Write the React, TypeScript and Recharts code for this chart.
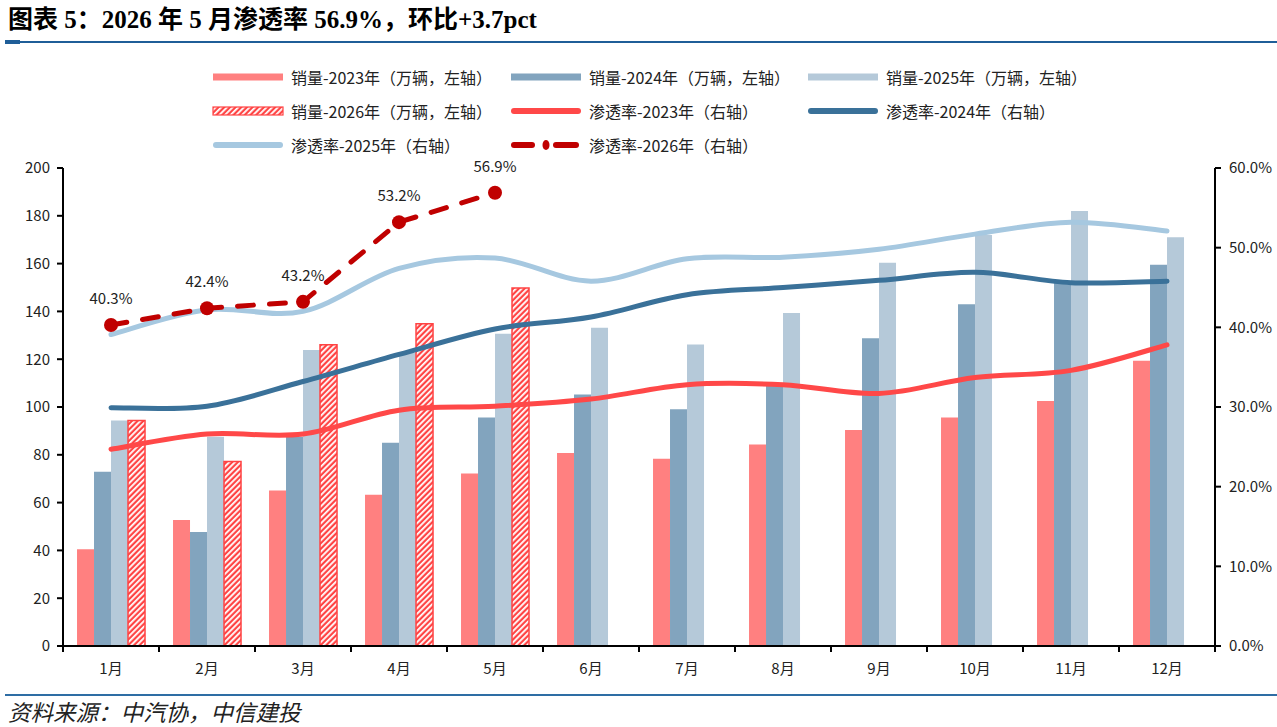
import React from 'react';
import { Bar, ComposedChart, LabelList, Line, XAxis, YAxis } from 'recharts';

const months = ['1月', '2月', '3月', '4月', '5月', '6月', '7月', '8月', '9月', '10月', '11月', '12月'];

// 销量（万辆）
const sales2023 = [40.5, 52.7, 65.1, 63.3, 72.2, 80.8, 78.3, 84.3, 90.4, 95.6, 102.5, 119.3];
const sales2024 = [72.9, 47.7, 87.6, 85.0, 95.6, 105.2, 99.1, 110.0, 128.8, 143.0, 152.0, 159.5];
const sales2025 = [94.4, 87.6, 123.8, 122.6, 130.7, 133.2, 126.2, 139.3, 160.4, 172.0, 182.0, 171.0];
const sales2026 = [94.4, 77.2, 126.0, 134.8, 149.8];

// 渗透率（%）
const rate2023 = [24.7, 26.6, 26.6, 29.6, 30.1, 31.0, 32.8, 32.8, 31.7, 33.7, 34.6, 37.8];
const rate2024 = [29.9, 30.1, 33.2, 36.6, 39.8, 41.3, 44.1, 45.0, 45.9, 46.9, 45.6, 45.8];
const rate2025 = [39.1, 42.2, 42.0, 47.4, 48.7, 45.8, 48.6, 48.8, 49.8, 51.7, 53.2, 52.1];
const rate2026 = [40.3, 42.4, 43.2, 53.2, 56.9];

const leftTicks = [0, 20, 40, 60, 80, 100, 120, 140, 160, 180, 200];
const rightTicks = [0, 10, 20, 30, 40, 50, 60];

const C = {
  bar23: '#FF8080',
  bar24: '#82A4BE',
  bar25: '#B5C9D9',
  hatch: '#FF4343',
  line23: '#FF4848',
  line24: '#3A7199',
  line25: '#A6C8E0',
  line26: '#C00000',
};

const FONT = '"Noto Sans CJK SC", "Noto Sans", sans-serif';

const data = months.map((m, i) => ({
  month: m,
  s23: sales2023[i],
  s24: sales2024[i],
  s25: sales2025[i],
  s26: sales2026[i] ?? null,
  r23: rate2023[i],
  r24: rate2024[i],
  r25: rate2025[i],
  r26: rate2026[i] ?? null,
}));

// Excel-like smoothed line (Catmull-Rom through the points)
const smooth = (ctx: any) => {
  let pts: number[][] = [];
  return {
    areaStart() {},
    areaEnd() {},
    lineStart() {
      pts = [];
    },
    point(x: number, y: number) {
      pts.push([+x, +y]);
    },
    lineEnd() {
      const n = pts.length;
      if (!n) return;
      ctx.moveTo(pts[0][0], pts[0][1]);
      for (let i = 0; i < n - 1; i++) {
        const p0 = pts[Math.max(i - 1, 0)];
        const p1 = pts[i];
        const p2 = pts[i + 1];
        const p3 = pts[Math.min(i + 2, n - 1)];
        ctx.bezierCurveTo(
          p1[0] + (p2[0] - p0[0]) / 6,
          p1[1] + (p2[1] - p0[1]) / 6,
          p2[0] - (p3[0] - p1[0]) / 6,
          p2[1] - (p3[1] - p1[1]) / 6,
          p2[0],
          p2[1],
        );
      }
    },
  };
};

const HALF_BAND = 48;

const MonthTick = (props: any) => {
  const { x, y, payload, index } = props;
  return (
    <g>
      <line x1={x - HALF_BAND} y1={y} x2={x - HALF_BAND} y2={y + 6} stroke="#000" strokeWidth={2} />
      {index === months.length - 1 && (
        <line x1={x + HALF_BAND} y1={y} x2={x + HALF_BAND} y2={y + 6} stroke="#000" strokeWidth={2} />
      )}
      <text x={x} y={y + 28} textAnchor="middle" fontSize={15} fill="#222" fontFamily={FONT}>
        {payload.value}
      </text>
    </g>
  );
};

const legendItems = [
  { label: '销量-2023年（万辆，左轴）', kind: 'bar', color: C.bar23 },
  { label: '销量-2024年（万辆，左轴）', kind: 'bar', color: C.bar24 },
  { label: '销量-2025年（万辆，左轴）', kind: 'bar', color: C.bar25 },
  { label: '销量-2026年（万辆，左轴）', kind: 'hatch', color: C.hatch },
  { label: '渗透率-2023年（右轴）', kind: 'line', color: C.line23 },
  { label: '渗透率-2024年（右轴）', kind: 'line', color: C.line24 },
  { label: '渗透率-2025年（右轴）', kind: 'line', color: C.line25 },
  { label: '渗透率-2026年（右轴）', kind: 'dash', color: C.line26 },
];

const colX = [212, 510, 807];
const rowY = [77, 111, 145];

function LegendIcon({ kind, color }: { kind: string; color: string }) {
  return (
    <svg width={72} height={14} style={{ display: 'block' }}>
      {kind === 'bar' && <rect x={1} y={3.5} width={70} height={7} fill={color} />}
      {kind === 'hatch' && (
        <rect x={1} y={3} width={70} height={8} fill="url(#hatch26)" stroke={color} strokeWidth={1.2} />
      )}
      {kind === 'line' && <line x1={4} y1={7} x2={68} y2={7} stroke={color} strokeWidth={6} strokeLinecap="round" />}
      {kind === 'dash' && (
        <g>
          <line x1={4} y1={7} x2={22} y2={7} stroke={color} strokeWidth={6} strokeLinecap="round" />
          <ellipse cx={36} cy={7} rx={3.5} ry={5} fill={color} />
          <line x1={46} y1={7} x2={66} y2={7} stroke={color} strokeWidth={6} strokeLinecap="round" />
        </g>
      )}
    </svg>
  );
}

export default function App() {
  return (
    <div style={{ position: 'relative', width: 1277, height: 727, background: '#fff', overflow: 'hidden' }}>
      <style>{'body{margin:0;}'}</style>
      <svg width={0} height={0} style={{ position: 'absolute' }}>
        <defs>
          <pattern id="hatch26" patternUnits="userSpaceOnUse" width={4} height={4} patternTransform="rotate(45)">
            <rect width={4} height={4} fill={C.hatch} />
            <rect width={1.8} height={4} fill="#fff" />
          </pattern>
        </defs>
      </svg>

      {/* Title */}
      <div
        style={{
          position: 'absolute',
          left: 8,
          top: 4,
          fontFamily: '"Liberation Serif", "Noto Sans CJK SC", serif',
          fontWeight: 700,
          fontSize: 25,
          color: '#000',
          whiteSpace: 'nowrap',
          lineHeight: '32px',
        }}
      >
        图表 5：2026 年 5 月渗透率 56.9%，环比+3.7pct
      </div>
      <div style={{ position: 'absolute', left: 5, top: 41, width: 1272, height: 2, background: '#1F5E98' }} />
      <div style={{ position: 'absolute', left: 5, top: 40, width: 15, height: 4, background: '#1F5E98' }} />

      {/* Legend */}
      {legendItems.map((it, i) => (
        <div
          key={it.label}
          style={{
            position: 'absolute',
            left: colX[i % 3],
            top: rowY[Math.floor(i / 3)] - 11,
            height: 22,
            display: 'flex',
            alignItems: 'center',
            gap: 7,
            whiteSpace: 'nowrap',
            fontFamily: FONT,
            fontSize: 16,
            color: '#222',
          }}
        >
          <LegendIcon kind={it.kind} color={it.color} />
          <span>{it.label}</span>
        </div>
      ))}

      <div style={{ position: 'absolute', left: 0, top: 0 }}>
        <ComposedChart
          width={1277}
          height={727}
          data={data}
          margin={{ top: 168, right: 0, bottom: 41, left: 8 }}
          barCategoryGap="14.6%"
          barGap={0}
        >
          <XAxis
            dataKey="month"
            xAxisId="x"
            height={40}
            axisLine={{ stroke: '#000', strokeWidth: 2 }}
            tickLine={false}
            tickSize={0}
            tickMargin={0}
            interval={0}
            tick={<MonthTick />}
          />
          <YAxis
            yAxisId="left"
            orientation="left"
            width={55}
            domain={[0, 200]}
            ticks={leftTicks}
            interval={0}
            axisLine={{ stroke: '#000', strokeWidth: 2 }}
            tickLine={{ stroke: '#000', strokeWidth: 2 }}
            tickSize={6}
            tickMargin={7}
            tick={{ fontSize: 15, fill: '#222', fontFamily: FONT }}
          />
          <YAxis
            yAxisId="right"
            orientation="right"
            width={62}
            domain={[0, 60]}
            ticks={rightTicks}
            interval={0}
            axisLine={{ stroke: '#000', strokeWidth: 2 }}
            tickLine={{ stroke: '#000', strokeWidth: 2 }}
            tickSize={6}
            tickMargin={8}
            tickFormatter={(v: number) => `${v.toFixed(1)}%`}
            tick={{ fontSize: 15, fill: '#222', fontFamily: FONT }}
          />

          <Bar dataKey="s23" xAxisId="x" yAxisId="left" fill={C.bar23} isAnimationActive={false} />
          <Bar dataKey="s24" xAxisId="x" yAxisId="left" fill={C.bar24} isAnimationActive={false} />
          <Bar dataKey="s25" xAxisId="x" yAxisId="left" fill={C.bar25} isAnimationActive={false} />
          <Bar
            dataKey="s26"
            xAxisId="x"
            yAxisId="left"
            fill="url(#hatch26)"
            stroke={C.hatch}
            strokeWidth={1.5}
            isAnimationActive={false}
          />

          <Line
            dataKey="r23"
            xAxisId="x"
            yAxisId="right"
            type={smooth as any}
            stroke={C.line23}
            strokeWidth={5}
            strokeLinecap="round"
            dot={false}
            activeDot={false}
            isAnimationActive={false}
          />
          <Line
            dataKey="r24"
            xAxisId="x"
            yAxisId="right"
            type={smooth as any}
            stroke={C.line24}
            strokeWidth={5}
            strokeLinecap="round"
            dot={false}
            activeDot={false}
            isAnimationActive={false}
          />
          <Line
            dataKey="r25"
            xAxisId="x"
            yAxisId="right"
            type={smooth as any}
            stroke={C.line25}
            strokeWidth={5}
            strokeLinecap="round"
            dot={false}
            activeDot={false}
            isAnimationActive={false}
          />
          <Line
            dataKey="r26"
            xAxisId="x"
            yAxisId="right"
            type="linear"
            stroke={C.line26}
            strokeWidth={5}
            strokeLinecap="round"
            strokeDasharray="16 16"
            dot={{ r: 7, fill: C.line26, stroke: 'none', strokeDasharray: '' }}
            activeDot={false}
            connectNulls={false}
            isAnimationActive={false}
          >
            <LabelList
              dataKey="r26"
              position="top"
              offset={21}
              formatter={(v: any) => (v == null ? '' : `${Number(v).toFixed(1)}%`)}
              style={{ fontSize: 15, fill: '#222', fontFamily: FONT }}
            />
          </Line>
        </ComposedChart>
      </div>

      {/* Footer */}
      <div style={{ position: 'absolute', left: 5, top: 694, width: 1272, height: 2, background: '#2E6DA4' }} />
      <div
        style={{
          position: 'absolute',
          left: 8,
          top: 697,
          fontFamily: FONT,
          fontStyle: 'italic',
          fontSize: 22.5,
          color: '#222',
          whiteSpace: 'nowrap',
          lineHeight: '28px',
        }}
      >
        资料来源：中汽协，中信建投
      </div>
    </div>
  );
}
